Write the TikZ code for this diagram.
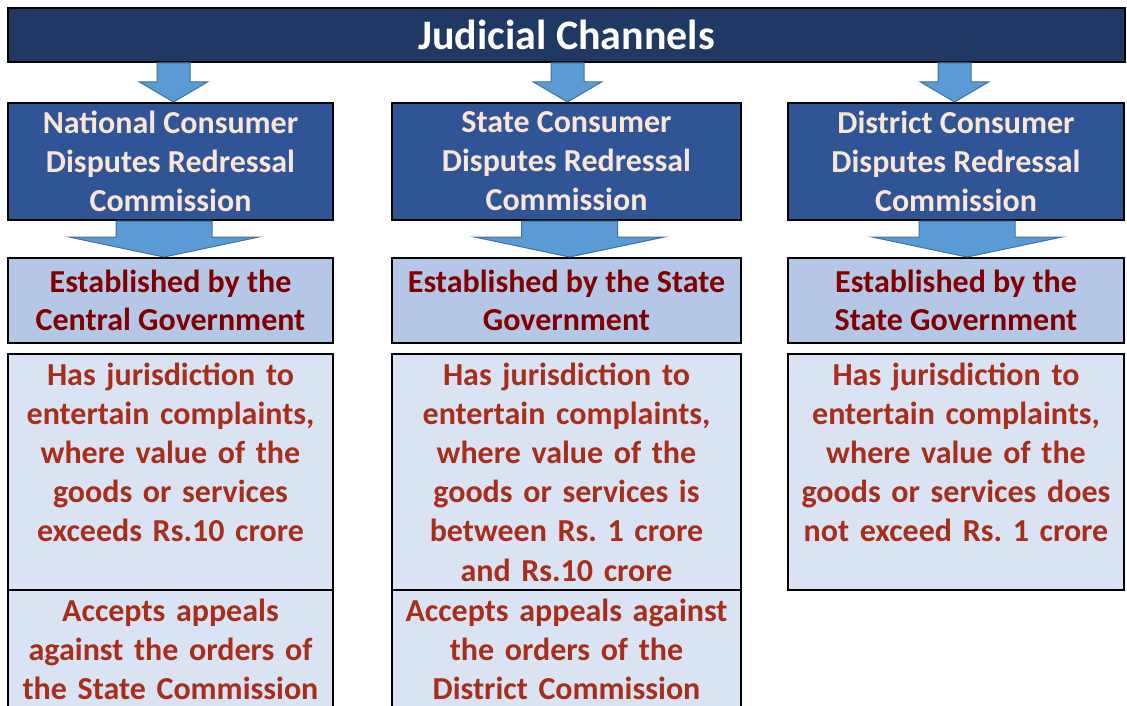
\documentclass[tikz,border=0pt]{standalone}
\usepackage{fontspec}
\setmainfont{Carlito}
\frenchspacing
\usetikzlibrary{calc, positioning}
\definecolor{navy}{RGB}{32,56,100}
\definecolor{commblue}{RGB}{47,85,151}
\definecolor{peach}{RGB}{251,229,214}
\definecolor{estblue}{RGB}{180,199,231}
\definecolor{estred}{RGB}{128,0,0}
\definecolor{palebox}{RGB}{218,227,243}
\definecolor{brick}{RGB}{168,46,26}
\definecolor{arrowblue}{RGB}{91,155,213}
\definecolor{arrowedge}{RGB}{65,113,156}
\tikzset{
    boxline/.style={draw=black, line width=2pt, inner sep=0pt, align=center},
    headbar/.style={boxline, fill=navy, text=white, font=\bfseries\fontsize{42}{48}\selectfont},
    commbox/.style={boxline, fill=commblue, text=peach, font=\bfseries\fontsize{32}{39}\selectfont, minimum height=117pt},
    estbox/.style={boxline, fill=estblue, text=estred, font=\bfseries\fontsize{32}{38.5}\selectfont, minimum height=85pt},
    infobox/.style n args={2}{boxline, fill=palebox, text=brick, font=\bfseries\fontsize{32}{39.2}\selectfont,
        anchor=north, minimum width=#2, text width=#2-6pt, text height=31pt, text depth=#1},
    blockarrow/.style={fill=arrowblue, draw=arrowedge, line width=1pt},
}
\begin{document}
\begin{tikzpicture}[x=1pt, y=-1pt]
    \useasboundingbox (0,0) rectangle (1127,706);
    \clip (0,0) rectangle (1127,706);
    \node[headbar, minimum width=1117pt, minimum height=54pt] (title) at (566.5,35) {Judicial Channels};
    % commissions
    \node[commbox, minimum width=325pt] (natc) at (170.5,161.5) {National Consumer\\Disputes Redressal\\Commission};
    \node[commbox, minimum width=349pt] (stac) at (566.5,161.5) {State Consumer\\Disputes Redressal\\Commission};
    \node[commbox, minimum width=336pt] (disc) at (956,161.5) {District Consumer\\Disputes Redressal\\Commission};
    % established by
    \node[estbox, minimum width=325pt] (nate) at (170.5,300.5) {Established by the\\Central Government};
    \node[estbox, minimum width=349pt] (state) at (566.5,300.5) {Established by the State\\Government};
    \node[estbox, minimum width=336pt] (dise) at (956,300.5) {Established by the\\State Government};
    % jurisdiction
    \node[infobox={205pt}{325pt}] (natj) at (170.5,353) {Has jurisdiction to\\entertain complaints,\\where value of the\\goods or services\\exceeds Rs.10 crore};
    \node[infobox={205pt}{349pt}] (staj) at (566.5,353) {Has jurisdiction to\\entertain complaints,\\where value of the\\goods or services is\\between Rs. 1 crore\\and Rs.10 crore};
    \node[infobox={205pt}{336pt}] (disj) at (956,353) {Has jurisdiction to\\entertain complaints,\\where value of the\\goods or services does\\not exceed Rs. 1 crore};
    % appeals
    \node[infobox={120pt}{325pt}] (nata) at (170.5,589) {Accepts appeals\\against the orders of\\the State Commission};
    \node[infobox={120pt}{349pt}] (staa) at (566.5,589) {Accepts appeals against\\the orders of the\\District Commission};
    % block arrows
    \foreach \src/\dst/\dx/\sw/\hw in {title/natc/3/16.5/34, title/stac/1/16.5/34, title/disc/-1.5/16.5/34,
        natc/nate/-6.5/48/95, stac/state/3/48/95, disc/dise/11/48/95}
        \draw[blockarrow] let \p1 = ($(\src.south -| \dst.north)+(\dx pt,0)$), \p2 = (\dst.north) in
            (\x1-\sw,\y1) -- (\x1-\sw,\y2+20) -- (\x1-\hw,\y2+20) -- (\x1,\y2)
            -- (\x1+\hw,\y2+20) -- (\x1+\sw,\y2+20) -- (\x1+\sw,\y1) -- cycle;
\end{tikzpicture}
\end{document}
